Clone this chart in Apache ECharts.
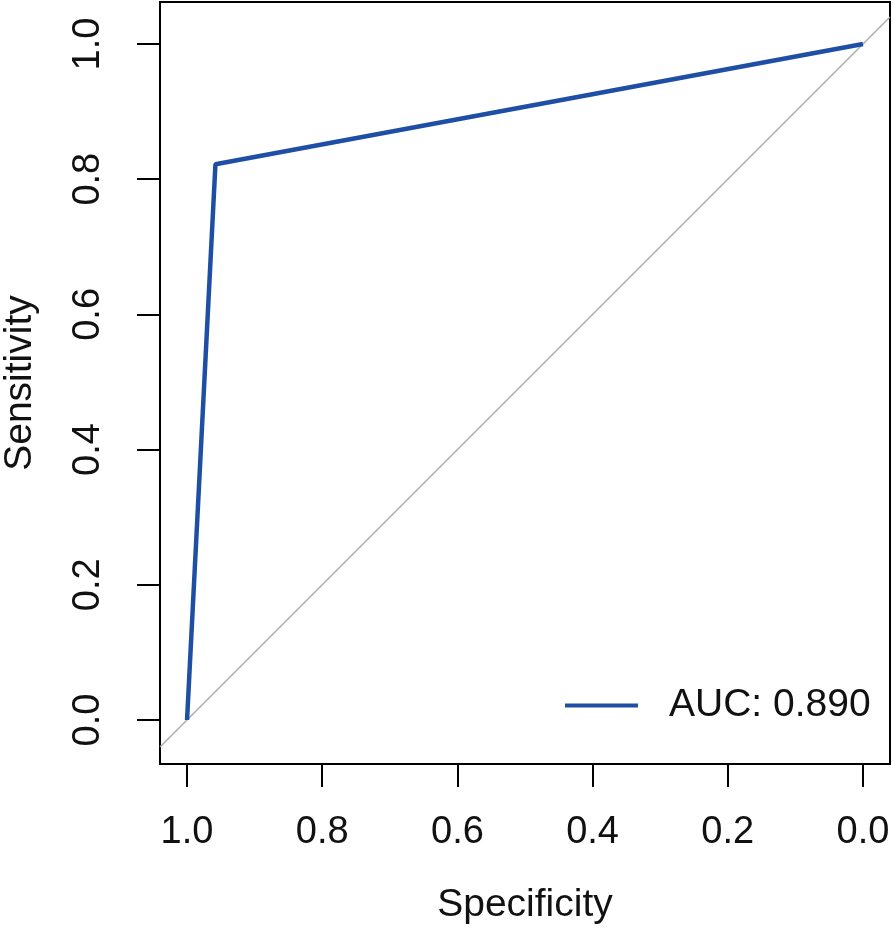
<!DOCTYPE html>
<html>
<head>
<meta charset="utf-8">
<script src="https://cdn.jsdelivr.net/npm/echarts@6/dist/echarts.min.js"></script>
<style>html,body{margin:0;padding:0;background:#fff}#c{width:893px;height:930px}</style>
</head>
<body>
<div id="c"></div>
<script>
var specificity = [1.0, 0.958, 0.0];
var sensitivity = [0.0, 0.822, 1.0];
var diagSpec = [1.04, -0.04];
var diagSens = [-0.04, 1.04];
var tickValues = [0, 0.2, 0.4, 0.6, 0.8, 1.0];
var seriesName = 'AUC: 0.890';
var xTitle = 'Specificity';
var yTitle = 'Sensitivity';

var font = 'Liberation Sans, Arial, sans-serif';
var chart = echarts.init(document.getElementById('c'), null, {renderer: 'canvas'});
var rocData = specificity.map(function (s, i) { return [s, sensitivity[i]]; });
var diagData = diagSpec.map(function (s, i) { return [s, diagSens[i]]; });
function fmt(v) { return v.toFixed(1); }
chart.setOption({
  animation: false,
  backgroundColor: '#fff',
  grid: {left: 160, top: 2, width: 730, height: 762, show: true, borderColor: '#000', borderWidth: 2, backgroundColor: 'transparent', containLabel: false, outerBoundsMode: 'none'},
  legend: {
    data: [{name: seriesName, icon: 'rect'}], left: 565, top: 686, padding: 0, itemWidth: 73, itemHeight: 4, itemGap: 10,
    itemStyle: {color: '#1f4fa5'},
    textStyle: {fontSize: 39, color: '#111', fontFamily: font, padding: [0, 0, 0, 26]}
  },
  xAxis: {
    type: 'value', min: -0.04, max: 1.04, inverse: true,
    name: xTitle, nameLocation: 'middle', nameGap: 122,
    nameTextStyle: {fontSize: 39, color: '#111', fontFamily: font},
    axisLine: {show: true, onZero: false, lineStyle: {color: '#000', width: 2}},
    splitLine: {show: false},
    axisTick: {show: true, inside: false, length: 23, customValues: tickValues, lineStyle: {color: '#000', width: 2}},
    axisLabel: {customValues: tickValues, formatter: fmt, margin: 50, fontSize: 38, color: '#111', fontFamily: font}
  },
  yAxis: {
    type: 'value', min: -0.0651, max: 1.0621,
    name: yTitle, nameLocation: 'middle', nameGap: 120,
    nameTextStyle: {fontSize: 39, color: '#111', fontFamily: font},
    axisLine: {show: true, onZero: false, lineStyle: {color: '#000', width: 2}},
    splitLine: {show: false},
    axisTick: {show: true, inside: false, length: 23, customValues: tickValues, lineStyle: {color: '#000', width: 2}},
    axisLabel: {customValues: tickValues, formatter: fmt, rotate: 90, margin: 52, fontSize: 38, color: '#111', fontFamily: font}
  },
  series: [
    {type: 'line', name: 'diag', data: diagData, symbol: 'none', clip: true, silent: true,
     lineStyle: {color: '#aaaaaa', width: 1.5}, z: 1},
    {type: 'line', name: seriesName, data: rocData, symbol: 'none', clip: true,
     lineStyle: {color: '#1f4fa5', width: 4.5}, itemStyle: {color: '#1f4fa5'}, z: 2}
  ]
});
</script>
</body>
</html>
